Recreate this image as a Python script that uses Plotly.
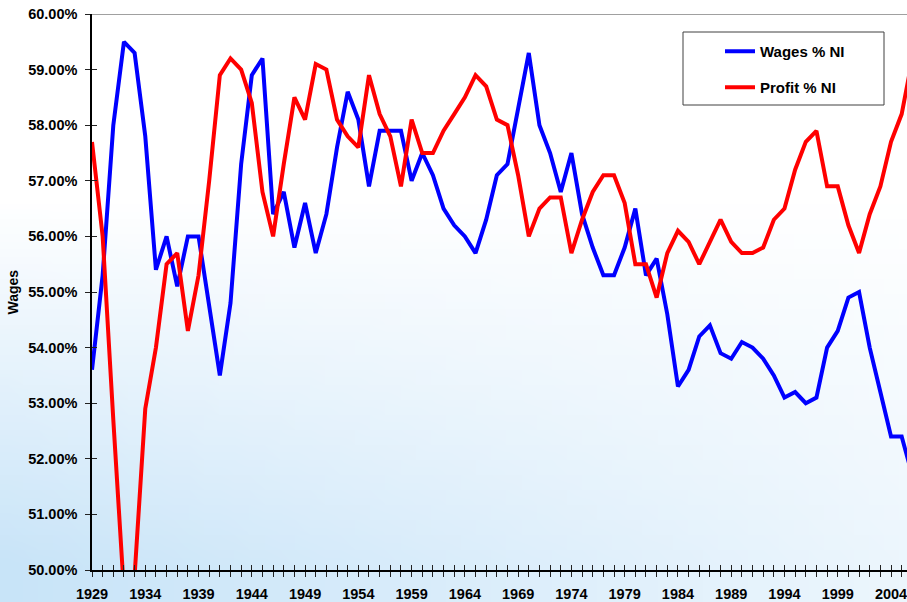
import base64
import struct
import zlib

import plotly.graph_objects as go

# ---------------- data ----------------
years = list(range(1929, 2007))

wages_pct = [
    53.6, 55.3, 58.0, 59.5, 59.3, 57.8, 55.4, 56.0, 55.1, 56.0,   # 1929-1938
    56.0, 54.8, 53.5, 54.8, 57.3, 58.9, 59.2, 56.4, 56.8, 55.8,   # 1939-1948
    56.6, 55.7, 56.4, 57.6, 58.6, 58.1, 56.9, 57.9, 57.9, 57.9,   # 1949-1958
    57.0, 57.5, 57.1, 56.5, 56.2, 56.0, 55.7, 56.3, 57.1, 57.3,   # 1959-1968
    58.3, 59.3, 58.0, 57.5, 56.8, 57.5, 56.4, 55.8, 55.3, 55.3,   # 1969-1978
    55.8, 56.5, 55.3, 55.6, 54.6, 53.3, 53.6, 54.2, 54.4, 53.9,   # 1979-1988
    53.8, 54.1, 54.0, 53.8, 53.5, 53.1, 53.2, 53.0, 53.1, 54.0,   # 1989-1998
    54.3, 54.9, 55.0, 54.0, 53.2, 52.4, 52.4, 51.7,               # 1999-2006
]

profit_pct = [
    57.7, 56.0, 52.7, 49.6, 49.9, 52.9, 54.0, 55.5, 55.7, 54.3,   # 1929-1938
    55.3, 57.0, 58.9, 59.2, 59.0, 58.4, 56.8, 56.0, 57.3, 58.5,   # 1939-1948
    58.1, 59.1, 59.0, 58.1, 57.8, 57.6, 58.9, 58.2, 57.8, 56.9,   # 1949-1958
    58.1, 57.5, 57.5, 57.9, 58.2, 58.5, 58.9, 58.7, 58.1, 58.0,   # 1959-1968
    57.1, 56.0, 56.5, 56.7, 56.7, 55.7, 56.3, 56.8, 57.1, 57.1,   # 1969-1978
    56.6, 55.5, 55.5, 54.9, 55.7, 56.1, 55.9, 55.5, 55.9, 56.3,   # 1979-1988
    55.9, 55.7, 55.7, 55.8, 56.3, 56.5, 57.2, 57.7, 57.9, 56.9,   # 1989-1998
    56.9, 56.2, 55.7, 56.4, 56.9, 57.7, 58.2, 59.2,               # 1999-2006
]

x_tick_years = list(range(1929, 2005, 5))
x_tick_labels = [str(y) for y in x_tick_years]

series_names = ["Wages % NI", "Profit % NI"]
y_title = "Wages"

# ---------------- background gradient (style only) ----------------
def make_png(w, h, func):
    raw = b""
    for j in range(h):
        row = bytearray([0])
        for i in range(w):
            row.extend(func(i / (w - 1), j / (h - 1)))
        raw += bytes(row)

    def chunk(tag, data):
        c = struct.pack(">I", len(data)) + tag + data
        return c + struct.pack(">I", zlib.crc32(tag + data) & 0xFFFFFFFF)

    png = b"\x89PNG\r\n\x1a\n"
    png += chunk(b"IHDR", struct.pack(">IIBBBBB", w, h, 8, 2, 0, 0, 0))
    png += chunk(b"IDAT", zlib.compress(raw, 9))
    png += chunk(b"IEND", b"")
    return "data:image/png;base64," + base64.b64encode(png).decode()


def bg(u, v):
    t = max(0.0, min(1.0, (v - 0.33) / 0.62)) * (1 - 0.65 * u)
    t = max(0.0, min(1.0, t))
    base = (200, 228, 248)
    return tuple(int(round(255 + (b - 255) * t)) for b in base)


bg_src = make_png(60, 40, bg)

# ---------------- figure ----------------
W, H = 907, 602
ML, MR, MT, MB = 92, 0, 14, 32
PW, PH = W - ML - MR, H - MT - MB

FONT = "Liberation Sans, Arial, sans-serif"

fig = go.Figure()
fig.add_trace(go.Scatter(
    x=years, y=wages_pct, name=series_names[0], mode="lines",
    line=dict(color="#0000FF", width=4), legend="legend",
))
fig.add_trace(go.Scatter(
    x=years, y=profit_pct, name=series_names[1], mode="lines",
    line=dict(color="#FF0000", width=4), legend="legend2",
))
# helper trace so the overlay axes (inside half of the crossing ticks) exist
fig.add_trace(go.Scatter(
    x=[None], y=[None], xaxis="x2", yaxis="y2", showlegend=False,
    hoverinfo="skip",
))

x_range = [1929, 2005.5]
y_range = [50, 60]
tickfont = dict(family=FONT, size=14.5, color="#000000", weight="bold")

fig.update_layout(
    width=W, height=H,
    margin=dict(l=ML, r=MR, t=MT, b=MB),
    paper_bgcolor="#FFFFFF",
    plot_bgcolor="rgba(0,0,0,0)",
    showlegend=True,
    xaxis=dict(
        range=x_range, tickmode="array", tickvals=x_tick_years,
        ticktext=x_tick_labels, ticks="outside", ticklen=5, tickwidth=1,
        tickcolor="#222222", showline=True, linecolor="#000000", linewidth=1.5,
        showgrid=False, zeroline=False, tickfont=tickfont,
        ticklabelstandoff=5, ticklabeloverflow="allow",
        minor=dict(tick0=1929, dtick=1, ticks="outside", ticklen=5,
                   tickwidth=1, tickcolor="#222222", showgrid=False),
    ),
    yaxis=dict(
        range=y_range, dtick=1, tick0=50, tickformat=".2f", ticksuffix="%",
        ticks="outside", ticklen=5, tickwidth=1, tickcolor="#222222",
        showline=True, linecolor="#000000", linewidth=1.5, showgrid=False,
        zeroline=False, tickfont=tickfont, ticklabelstandoff=5,
        ticklabeloverflow="allow",
    ),
    xaxis2=dict(
        range=x_range, overlaying="x", anchor="y2", side="bottom",
        tick0=1929, dtick=1, ticks="inside", ticklen=5, tickwidth=1,
        tickcolor="#222222", showticklabels=False, showline=False,
        showgrid=False, zeroline=False,
    ),
    yaxis2=dict(
        range=y_range, overlaying="y", anchor="x2", side="left",
        tick0=50, dtick=1, ticks="inside", ticklen=5, tickwidth=1,
        tickcolor="#222222", showticklabels=False, showline=False,
        showgrid=False, zeroline=False,
    ),
    legend=dict(
        x=(720 - ML) / PW, y=1 - (35 - MT) / PH, xanchor="left", yanchor="top",
        bgcolor="rgba(0,0,0,0)", borderwidth=0,
        font=dict(family=FONT, size=15, color="#000000", weight="bold"),
    ),
    legend2=dict(
        x=(720 - ML) / PW, y=1 - (71 - MT) / PH, xanchor="left", yanchor="top",
        bgcolor="rgba(0,0,0,0)", borderwidth=0,
        font=dict(family=FONT, size=15, color="#000000", weight="bold"),
    ),
    images=[dict(
        source=bg_src, xref="paper", yref="paper",
        x=-ML / PW, y=1 + MT / PH, sizex=W / PW, sizey=H / PH,
        xanchor="left", yanchor="top", sizing="stretch", layer="below",
    )],
    shapes=[
        dict(type="line", xref="paper", yref="y", x0=0, x1=1, y0=60, y1=60,
             line=dict(color="#A0A0A0", width=2), layer="above"),
        dict(type="rect", xref="paper", yref="paper",
             x0=(683 - ML) / PW, x1=(884 - ML) / PW,
             y0=1 - (105 - MT) / PH, y1=1 - (32 - MT) / PH,
             line=dict(color="#404040", width=1), fillcolor="#FFFFFF",
             layer="above"),
    ],
    annotations=[dict(
        text=y_title, xref="paper", yref="paper",
        x=(12.5 - ML) / PW, y=0.5, xanchor="center", yanchor="middle",
        textangle=-90, showarrow=False,
        font=dict(family=FONT, size=14, color="#000000", weight="bold"),
    )],
)

fig.write_html("out.html")
